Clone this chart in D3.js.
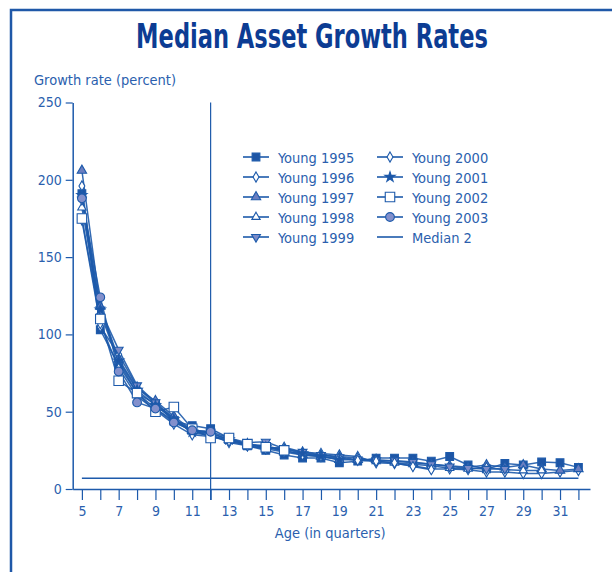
<!DOCTYPE html>
<html>
<head>
<meta charset="utf-8">
<script src="https://cdn.jsdelivr.net/npm/d3@7"></script>
<style>
  body { margin: 0; background: #fff; }
  text { font-family: "DejaVu Sans Condensed", "DejaVu Sans", sans-serif; font-stretch: condensed; }
</style>
</head>
<body>
<div id="chart"></div>
<script>
// data
var ages = [5,6,7,8,9,10,11,12,13,14,15,16,17,18,19,20,21,22,23,24,25,26,27,28,29,30,31,32];

var young1995 = [191,103,80,62,55,44,41,39,33,28,25,22,20,20,17,18,20,20,20,18,21,15.5,13,16.5,15.5,17.5,17,14];
var young1996 = [196,105,87,66,55,46,36,35,30,28,26,27,24,23,22,21,17,16.5,15,13,13,12.5,11,11,10,10,11,12];
var young1997 = [206,118,84,65,57,47,38,36,32,29,28,25,22,21,19,19,19,18,17,16,15,14,15.5,14,15.5,13,12,13];
var young1998 = [182,114,82,62,52,44,37,35,31,28.5,27,26,23,22,21,20,18,17,16,15,13.5,13,14,12.5,12,12];
var young1999 = [187,116,90,67,56,45,38,37,33,30,30.5,26,24,22,20.5,19,18.5,18.5,17.5,16,14.5,13.5,13,13];
var young2000 = [174,107,78,60,51,42,35,34,31,28,26,24,22,21,20,18.5,18,17,14.5,12.5];
var young2001 = [190,116,83,64,54,45,37,36,32,29,27,24.5,23,21,19];
var young2002 = [175,110,70,62,50,53,39,33,33,29,27,25];
var young2003 = [188,124,76,56,52,43,38,37];
var median2 = 7;

var seriesNames = ["Young 1995","Young 1996","Young 1997","Young 1998","Young 1999",
                   "Young 2000","Young 2001","Young 2002","Young 2003"];
var seriesValues = [young1995,young1996,young1997,young1998,young1999,
                    young2000,young2001,young2002,young2003];

var yTicks = [0,50,100,150,200,250];
var xTicks = d3.range(5,33);

var width = 612, height = 572;
var lineColor = "#1d5aab", textColor = "#2b5fae";

// marker styles for each series
var styles = [
  {sym: d3.symbolSquare,   size: 60, fill: "#1d55a5"},
  {sym: d3.symbolDiamond,  size: 30, fill: "#fff"},
  {sym: d3.symbolTriangle, size: 38, fill: "#6a7ec0"},
  {sym: d3.symbolTriangle, size: 30, fill: "#fff"},
  {sym: d3.symbolTriangle, size: 34, fill: "#7c8cc8", rot: 180},
  {sym: d3.symbolDiamond,  size: 30, fill: "#fff"},
  {sym: d3.symbolStar,     size: 32, fill: "#1d55a5"},
  {sym: d3.symbolSquare,   size: 90, fill: "#fff"},
  {sym: d3.symbolCircle,   size: 60, fill: "#8390cc"}
];

var svg = d3.select("#chart").append("svg")
  .attr("width", width).attr("height", height);

// frame
svg.append("path")
   .attr("d", "M11,572 L11,10 L612,10")
   .attr("fill", "none")
   .attr("stroke", "#1f58a8")
   .attr("stroke-width", 2.5);

// title (squeezed to look like a condensed face)
svg.append("text")
   .attr("transform", "translate(312,48) scale(0.76,1)")
   .attr("text-anchor", "middle")
   .style("font-size", "33px")
   .style("font-weight", "bold")
   .style("fill", "#0c3c93")
   .text("Median Asset Growth Rates");

var x = d3.scaleLinear().domain([4.5, 32.63]).range([72.7, 590]);
var y = d3.scaleLinear().domain([0, 250]).range([489, 102.5]);

// y axis
var yAxis = svg.append("g")
   .attr("transform", "translate(" + x(4.5) + ",0)")
   .call(d3.axisLeft(y).tickValues(yTicks).tickSize(7).tickSizeOuter(0));
yAxis.attr("font-family", null).attr("font-size", null);
yAxis.select(".domain").attr("stroke", lineColor).attr("stroke-width", 1.5);
yAxis.selectAll(".tick line").attr("stroke", lineColor).attr("stroke-width", 1.2);
yAxis.selectAll(".tick text")
   .attr("x", -11)
   .style("font-size", "14px")
   .style("fill", textColor);

// x axis
var xAxis = svg.append("g")
   .attr("transform", "translate(0," + y(0) + ")")
   .call(d3.axisBottom(x).tickValues(xTicks).tickSize(11).tickSizeOuter(0)
           .tickFormat(function(d){ return d % 2 == 1 ? d : ""; }));
xAxis.attr("font-family", null).attr("font-size", null);
xAxis.select(".domain").attr("stroke", lineColor).attr("stroke-width", 1.5);
xAxis.selectAll(".tick line").attr("stroke", lineColor).attr("stroke-width", 1.2);
xAxis.selectAll(".tick text")
   .attr("y", 17)
   .style("font-size", "14px")
   .style("fill", textColor);

// axis titles
svg.append("text")
   .attr("x", 34).attr("y", 85)
   .style("font-size", "14.5px")
   .style("fill", textColor)
   .text("Growth rate (percent)");

svg.append("text")
   .attr("x", x(18.5)).attr("y", 538)
   .attr("text-anchor", "middle")
   .style("font-size", "14.5px")
   .style("fill", textColor)
   .text("Age (in quarters)");

// vertical line at age 12
svg.append("line")
   .attr("x1", x(12)).attr("x2", x(12))
   .attr("y1", y(250)).attr("y2", y(0) + 11)
   .attr("stroke", lineColor).attr("stroke-width", 1.2);

// median 2 line
svg.append("line")
   .attr("x1", x(5)).attr("x2", x(32))
   .attr("y1", y(median2)).attr("y2", y(median2))
   .attr("stroke", lineColor).attr("stroke-width", 1.6);

var line = d3.line()
   .x(function(d){ return x(d[0]); })
   .y(function(d){ return y(d[1]); });

function symbolPath(st){
  return d3.symbol().type(st.sym).size(st.size)();
}

// series lines
var plot = svg.append("g").attr("class", "series");
seriesValues.forEach(function(vals, i){
  var pts = vals.map(function(v, j){ return [ages[j], v]; });
  plot.append("path")
      .datum(pts)
      .attr("fill", "none")
      .attr("stroke", lineColor)
      .attr("stroke-width", 1.5)
      .attr("opacity", 0.9)
      .attr("d", line);
});

// markers
seriesValues.forEach(function(vals, i){
  var st = styles[i];
  var pts = vals.map(function(v, j){ return [ages[j], v]; });
  plot.append("g").selectAll("path")
      .data(pts)
      .enter()
      .append("path")
      .attr("d", symbolPath(st))
      .attr("transform", function(d){
        return "translate(" + x(d[0]) + "," + y(d[1]) + ")" + (st.rot ? " rotate(" + st.rot + ")" : "");
      })
      .attr("fill", st.fill)
      .attr("stroke", lineColor)
      .attr("stroke-width", 1.1);
});

// legend
var legendItems = seriesNames.map(function(n, i){ return {name: n, style: styles[i]}; });
legendItems.push({name: "Median 2", style: null});

var legend = svg.append("g").attr("class", "legend");
legendItems.forEach(function(d, i){
  var col = i < 5 ? 0 : 1;
  var row = i < 5 ? i : i - 5;
  var lx = col == 0 ? 243 : 377;
  var ly = 157 + row * 20;
  var g = legend.append("g").attr("transform", "translate(" + lx + "," + ly + ")");
  g.append("line")
   .attr("x1", 0).attr("x2", 26)
   .attr("y1", 0).attr("y2", 0)
   .attr("stroke", lineColor)
   .attr("stroke-width", 1.6);
  if (d.style) {
    g.append("path")
     .attr("d", symbolPath(d.style))
     .attr("transform", "translate(13,0)" + (d.style.rot ? " rotate(" + d.style.rot + ")" : ""))
     .attr("fill", d.style.fill)
     .attr("stroke", lineColor)
     .attr("stroke-width", 1.1);
  }
  g.append("text")
   .attr("x", 35).attr("y", 5.5)
   .style("font-size", "14.5px")
   .style("fill", textColor)
   .text(d.name);
});
</script>
</body>
</html>
